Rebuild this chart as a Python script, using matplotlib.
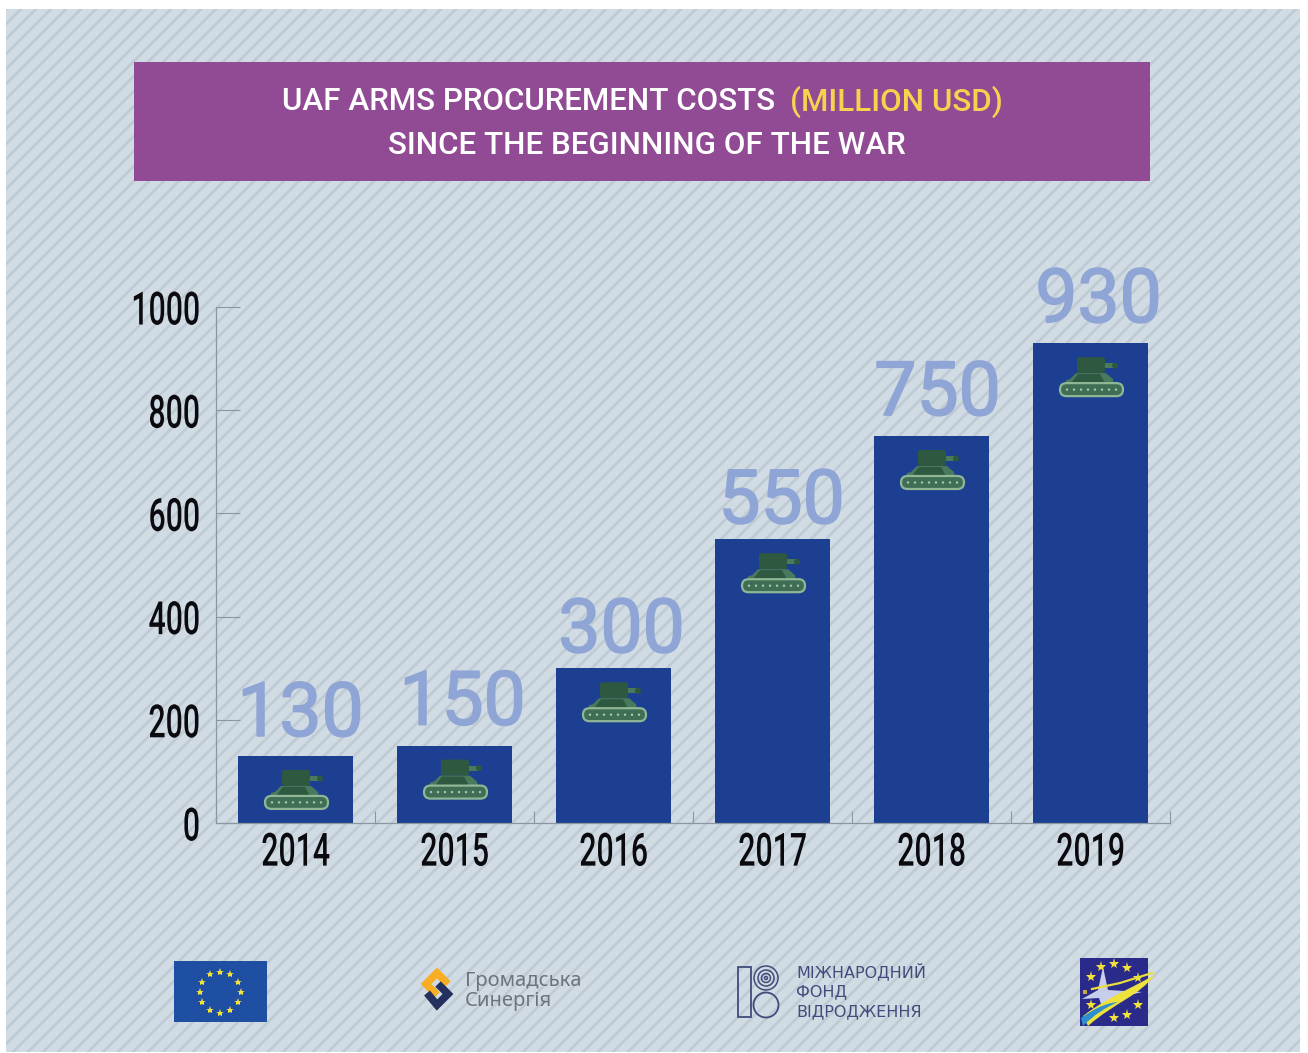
import numpy as np
import matplotlib
matplotlib.use("Agg")
import matplotlib.pyplot as plt
from matplotlib.collections import LineCollection
from matplotlib.patches import Rectangle, FancyBboxPatch, Circle, Polygon, PathPatch
from matplotlib.patheffects import AbstractPathEffect, withStroke
from matplotlib.path import Path
from matplotlib.transforms import Affine2D

years = ["2014", "2015", "2016", "2017", "2018", "2019"]
costs = [130, 150, 300, 550, 750, 930]
y_ticks = [0, 200, 400, 600, 800, 1000]
title_main = "UAF ARMS PROCUREMENT COSTS"
title_unit = "(MILLION USD)"
title_second = "SINCE THE BEGINNING OF THE WAR"
irf_lines = ["МІЖНАРОДНИЙ", "ФОНД", "ВІДРОДЖЕННЯ"]
syn_lines = ["Громадська", "Синергія"]

W, H = 1308, 1053


class Squeeze(AbstractPathEffect):
    # no condensed font installed, so narrow the glyphs around x = cx (pixels)
    def __init__(self, sx, cx):
        super().__init__()
        self.sx = sx
        self.cx = cx

    def draw_path(self, renderer, gc, tpath, affine, rgbFace=None):
        t = affine + Affine2D().translate(-self.cx, 0).scale(self.sx, 1).translate(self.cx, 0)
        renderer.draw_path(gc, tpath, t, rgbFace)


fig = plt.figure(figsize=(W / 100, H / 100), dpi=100, facecolor="white")

# background, pixel coords
bg = fig.add_axes([0, 0, 1, 1], zorder=0)
bg.set_xlim(0, W)
bg.set_ylim(H, 0)
bg.axis("off")
panel = Rectangle((6, 9), 1294, 1043, fc="#D0DBE3", ec="none", zorder=0.1)
bg.add_patch(panel)
segs = [[(c, 0), (c - H, H)] for c in range(0, W + H + 15, 15)]
stripes = LineCollection(segs, colors="#BFCBD4", linewidths=2.0, zorder=0.2)
bg.add_collection(stripes)
stripes.set_clip_path(panel)

# title box
bg.add_patch(Rectangle((134, 62), 1016, 119, fc="#914A94", ec="none"))
bg.text(775, 102, title_main, color="white", fontsize=22.6, family="Roboto", weight="medium", ha="right", va="center")
bg.text(790, 102, title_unit, color="#F5D34E", fontsize=22.6, family="Roboto", weight="medium", ha="left", va="center")
bg.text(647, 145, title_second, color="white", fontsize=22.6, family="Roboto", weight="medium", ha="center", va="center")

# chart
ax = fig.add_axes([216 / W, 1 - 823 / H, 954 / W, 516 / H], zorder=1)
ax.patch.set_alpha(0)
ax.set_xlim(-0.5, 5.5)
ax.set_ylim(0, 1000)
x = np.arange(len(years))
ax.bar(x, costs, width=115 / 159, color="#1C3F92")
for s in ["top", "right"]:
    ax.spines[s].set_visible(False)
for s in ["left", "bottom"]:
    ax.spines[s].set_color("#8A96A0")
    ax.spines[s].set_linewidth(0.9)
ax.set_yticks(y_ticks)
ax.set_yticklabels([str(t) for t in y_ticks], family="Roboto", weight="medium", fontsize=33, color="#0B0B0F")
ax.tick_params(axis="y", direction="in", length=17, width=0.8, color="#8A96A0", pad=11.5)
ax.set_xticks(x)
ax.set_xticklabels(years, family="Roboto", weight="medium", fontsize=33, color="#0B0B0F")
ax.set_xticks(np.arange(-0.5, 6), minor=True)
ax.tick_params(axis="x", which="major", length=0, pad=5.5)
ax.tick_params(axis="x", which="minor", direction="in", length=9, width=0.8, color="#8A96A0")
for lab in ax.get_yticklabels():
    lab.set_path_effects([Squeeze(0.66, 200)])
for i, lab in enumerate(ax.get_xticklabels()):
    lab.set_path_effects([Squeeze(0.66, 296 + 159 * i)])

# value labels
label_dx = [5, 8, 8, 9, 6, 8]
label_dy = [20, 21, 16, 16, 21, 21]
for i, v in enumerate(costs):
    ax.annotate(str(v), (x[i], v), xytext=(label_dx[i] * 0.72, label_dy[i] * 0.72), textcoords="offset points",
                ha="center", va="baseline", color="#8FA5D6", fontsize=54, family="Roboto",
                path_effects=[withStroke(linewidth=1.2, foreground="#8FA5D6")])

# tanks on top of the bars
fg = fig.add_axes([0, 0, 1, 1], zorder=2)
fg.set_xlim(0, W)
fg.set_ylim(H, 0)
fg.axis("off")


def tank(cx, top):
    # cx, top = bar centre and bar top in pixels
    fg.add_patch(Rectangle((cx + 12, top + 20), 11, 5, fc="#4A7A5C", ec="none"))
    fg.add_patch(Circle((cx + 24, top + 22.5), 3, fc="#2E5840", ec="none"))
    fg.add_patch(FancyBboxPatch((cx - 14, top + 14), 28, 16, boxstyle="round,pad=0,rounding_size=2.5", fc="#2E5840", ec="none"))
    fg.add_patch(Polygon([(cx - 25, top + 41), (cx - 25, top + 37), (cx - 21, top + 36), (cx - 15, top + 30),
                          (cx + 15, top + 30), (cx + 22, top + 36), (cx + 23, top + 41)],
                         closed=True, fc="#4A7A5C", ec="none"))
    fg.add_patch(Polygon([(cx - 20, top + 40), (cx - 13, top + 31), (cx + 9, top + 31), (cx + 14, top + 40)],
                         closed=True, fc="#2E5840", ec="none"))
    fg.add_patch(FancyBboxPatch((cx - 31, top + 40), 63, 13, boxstyle="round,pad=0,rounding_size=6.5",
                                fc="#3F6E55", ec="#8FB796", lw=1.6))
    for k in range(8):
        fg.add_patch(Circle((cx - 24 + k * 7, top + 46.5), 1.2, fc="#A9C9AE", ec="none"))


for i, v in enumerate(costs):
    tank(296 + 159 * i, 823 - v * 0.516)

# EU flag
bg.add_patch(Rectangle((174, 961), 93, 61, fc="#1F4FA3", ec="none"))
ang = np.deg2rad(np.arange(0, 360, 30))
bg.plot(220 + 20.5 * np.cos(ang), 992 + 20.5 * np.sin(ang), ls="none", marker="*", ms=6, color="#F2E23C", mew=0)

# Hromadska Synergia logo
bg.plot([448, 437, 426, 437], [984, 973, 984, 995], color="#F7AE22", lw=5.5, solid_joinstyle="miter", solid_capstyle="butt")
bg.plot([427, 437, 448, 438], [993, 1005, 994, 984], color="#24305E", lw=5.5, solid_joinstyle="miter", solid_capstyle="butt")
bg.text(465, 981, syn_lines[0], color="#6C7479", fontsize=14.5, family="Noto Sans", va="center")
bg.text(465, 1001, syn_lines[1], color="#6C7479", fontsize=14.5, family="Noto Sans", va="center")

# IRF logo
irf = "#414C7C"
bg.add_patch(Rectangle((738, 967), 13, 50, fc="none", ec=irf, lw=1.3))
for r in [12, 8, 4.5, 1.5]:
    bg.add_patch(Circle((766, 978), r, fc="none", ec=irf, lw=1.1))
bg.add_patch(Circle((766, 1005), 12.5, fc="none", ec=irf, lw=1.3))
for txt, yy in zip(irf_lines, [971, 992, 1012]):
    bg.text(796, yy, txt, color=irf, fontsize=11.5, family="DejaVu Sans", va="center")

# last logo
bg.add_patch(Rectangle((1080, 958), 68, 68, fc="#2A2A8A", ec="none"))
bg.add_patch(Polygon([(1103, 967), (1108, 990), (1142, 992), (1110, 1000), (1101, 1004), (1099, 998), (1082, 999), (1098, 990)],
                     closed=True, fc="#C6CEEB", ec="none"))
star_x = [1101, 1114, 1127, 1138, 1091, 1091, 1114, 1127, 1138]
star_y = [967, 964, 968, 978, 977, 1005, 1018, 1015, 1005]
bg.plot(star_x, star_y, ls="none", marker="*", ms=8, color="#F2E23C", mew=0)
bg.plot([1085], [992], ls="none", marker="s", ms=3.5, color="#C9A83C", mew=0)
bg.plot([1092, 1120, 1152], [989, 983, 973], color="#E9DD3C", lw=1.6)
codes = [Path.MOVETO, Path.CURVE4, Path.CURVE4, Path.CURVE4, Path.CURVE4, Path.CURVE4, Path.CURVE4, Path.CLOSEPOLY]
verts = [(1088, 1026), (1115, 1002), (1140, 996), (1155, 974), (1140, 985), (1110, 995), (1083, 1016), (1088, 1026)]
bg.add_patch(PathPatch(Path(verts, codes), fc="#F0E23C", ec="none"))
verts2 = [(1083, 1026), (1095, 1014), (1105, 1008), (1118, 1002), (1105, 1003), (1092, 1010), (1081, 1018), (1083, 1026)]
bg.add_patch(PathPatch(Path(verts2, codes), fc="#2E8FD0", ec="none"))

fig.savefig("out.png", dpi=100, facecolor="white")
